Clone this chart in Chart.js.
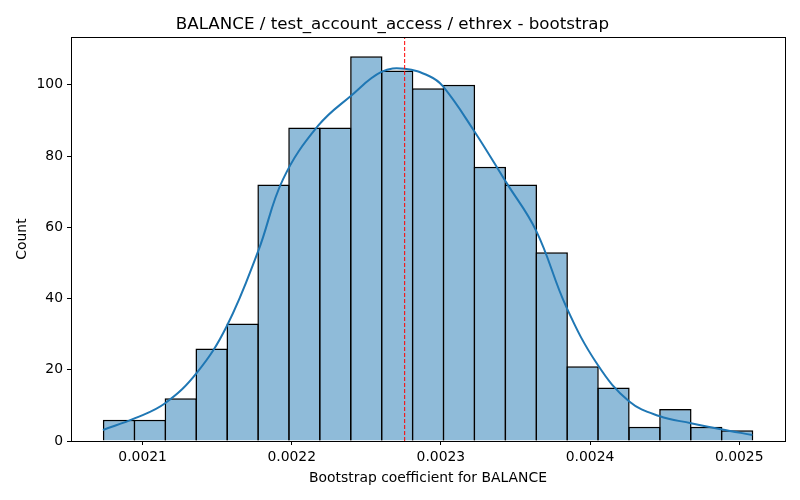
<!DOCTYPE html>
<html>
<head>
<meta charset="utf-8">
<script src="https://cdn.jsdelivr.net/npm/chart.js@4/dist/chart.umd.min.js"></script>
<style>
  body { margin: 0; background: #fff; }
  #wrap { width: 800px; height: 500px; }
</style>
</head>
<body>
<div id="wrap"><canvas id="histChart" width="800" height="500"></canvas></div>
<script>
// histogram bins (centres) and counts
const binCenters = [0.0020842, 0.0021049, 0.0021256, 0.0021463, 0.0021671, 0.0021878, 0.0022085,
    0.0022292, 0.0022500, 0.0022707, 0.0022914, 0.0023121, 0.0023328, 0.0023536,
    0.0023743, 0.0023950, 0.0024157, 0.0024365, 0.0024572, 0.0024779, 0.0024986];
const counts = [6, 6, 12, 26, 33, 72, 88, 88, 108, 104, 99, 100, 77, 72, 53, 21, 15, 4, 9, 4, 3];

// kde curve
const kdeX = [0.0020734, 0.0020950, 0.0021151, 0.0021363, 0.0021564, 0.0021775, 0.0021942,
    0.0022177, 0.0022400, 0.0022601, 0.0022757, 0.0022924, 0.0023013, 0.0023214,
    0.0023438, 0.0023639, 0.0023839, 0.0024051, 0.0024263, 0.0024464, 0.0024676,
    0.0024877, 0.0025088];
const kdeY = [3.1, 6.4, 10.6, 19.1, 32.2, 53.3, 73.5, 88.5, 97, 103.6, 104.5, 102.4, 99.6,
    87.6, 72.6, 59, 37.8, 21.4, 11.1, 7.0, 5.0, 3.3, 1.7];

const meanValue = 0.0022757;
const xTicks = [0.0021, 0.0022, 0.0023, 0.0024, 0.0025];
const yTicks = [0, 20, 40, 60, 80, 100];
const xRange = [0.002052, 0.0025307];
const yMax = 113.4;

const font = { family: 'DejaVu Sans', size: 13.9 };

const frame = {
    id: 'frame',
    afterDraw(chart) {
        const a = chart.chartArea, c = chart.ctx;
        c.save();
        c.strokeStyle = '#000';
        c.lineWidth = 1;
        c.strokeRect(Math.round(a.left) + 0.5, Math.round(a.top) + 0.5,
            Math.round(a.right - a.left), Math.round(a.bottom - a.top));
        c.restore();
    }
};

document.addEventListener("DOMContentLoaded", () => {
    const ctx = document.getElementById('histChart').getContext('2d');
    new Chart(ctx, {
        type: 'bar',
        data: {
            datasets: [{
                type: 'line',
                data: [{ x: meanValue, y: 0 }, { x: meanValue, y: yMax }],
                borderColor: 'red',
                borderWidth: 1,
                borderDash: [4, 2],
                pointRadius: 0,
                order: 1
            }, {
                type: 'line',
                data: kdeX.map((x, i) => ({ x: x, y: kdeY[i] })),
                borderColor: '#1f77b4',
                borderWidth: 2,
                tension: 0.4,
                pointRadius: 0,
                order: 2
            }, {
                type: 'bar',
                data: binCenters.map((x, i) => ({ x: x, y: counts[i] })),
                backgroundColor: 'rgba(31,119,180,0.5)',
                borderColor: '#000',
                borderWidth: 1.5,
                // a hair wider than the bin so neighbouring edges overlap
                barPercentage: 1.048,
                categoryPercentage: 1,
                order: 3
            }]
        },
        options: {
            responsive: false,
            animation: false,
            layout: { padding: { left: 0, right: 15, top: 0, bottom: 9 } },
            plugins: {
                legend: { display: false },
                tooltip: { enabled: false },
                title: {
                    display: true,
                    text: 'BALANCE / test_account_access / ethrex - bootstrap',
                    color: '#000',
                    font: { family: 'DejaVu Sans', size: 16.7, weight: 'normal' },
                    padding: { top: 15, bottom: 2 }
                }
            },
            scales: {
                x: {
                    type: 'linear',
                    offset: false,
                    min: xRange[0],
                    max: xRange[1],
                    afterBuildTicks: s => { s.ticks = xTicks.map(v => ({ value: v })); },
                    afterFit: s => { s.height = 50; },
                    grid: { offset: false, drawOnChartArea: false, color: '#000', tickLength: 4 },
                    border: { color: '#000' },
                    ticks: {
                        color: '#000', font: font, padding: 4, maxRotation: 0,
                        callback: v => v.toFixed(4)
                    },
                    title: {
                        display: true, text: 'Bootstrap coefficient for BALANCE',
                        color: '#000', font: font, padding: { top: 0, bottom: 4 }
                    }
                },
                y: {
                    min: 0,
                    max: yMax,
                    afterBuildTicks: s => { s.ticks = yTicks.map(v => ({ value: v })); },
                    afterFit: s => { s.width = 71; },
                    grid: { offset: false, drawOnChartArea: false, color: '#000', tickLength: 4 },
                    border: { color: '#000' },
                    ticks: { color: '#000', font: font, padding: 4 },
                    title: {
                        display: true, text: 'Count',
                        color: '#000', font: font, padding: { top: 14, bottom: 0 }
                    }
                }
            }
        },
        plugins: [frame]
    });
});
</script>
</body>
</html>
